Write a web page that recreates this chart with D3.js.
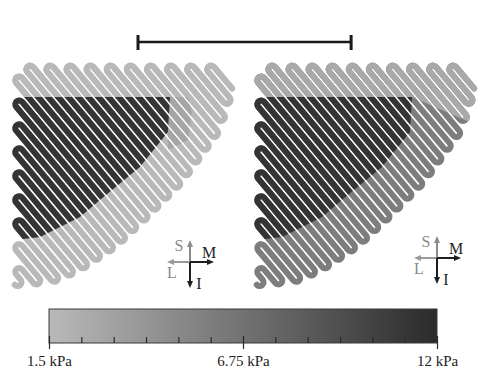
<!DOCTYPE html>
<html><head><meta charset="utf-8">
<script src="https://cdn.jsdelivr.net/npm/d3@7"></script>
<style>html,body{margin:0;padding:0;background:#fff;} svg{display:block;}</style>
</head><body><svg id="chart" width="487" height="381"></svg>
<script>
// ---------- data (normalized panel coordinates, pressures in kPa) ----------
const outlineShape = [[0,0],[0.920,0],[0.978,0.058],[0.996,0.124],[0.973,0.212],[0.929,0.323],[0.863,0.412],[0.774,0.535],[0.624,0.686],[0.469,0.832],[0.301,0.942],[0.168,1],[0,1]];
const coreRegion = [[-0.1,0.155],[0.699,0.155],[0.690,0.310],[0.566,0.465],[0.389,0.611],[0.301,0.686],[0.124,0.774],[-0.1,0.801]];
const transitionRegion = [[0.695,0.155],[0.779,0.155],[0.796,0.221],[0.779,0.345],[0.690,0.389],[0.690,0.310]];
const topBandRegion = [[-0.1,-0.1],[1.1,-0.1],[1.1,0.33],[0.699,0.155],[-0.1,0.155]];
const panelBaseKPa = [1.5, 5.9];
const panelTopBandKPa = [1.5, 2.7];
const panelTransitionKPa = [3.0, null];
const panelCoreKPa = [11.3, 11.3];
const colorbarDomain = [1.5, 12];
const colorbarMajorTicks = [1.5, 6.75, 12];
const colorbarTickLabels = ["1.5 kPa", "6.75 kPa", "12 kPa"];
const colorbarDivisions = 12;
const compassLabels = ["S", "M", "L", "I"];
const scaleBarLength = 0.943; // in panel widths

// ---------- layout ----------
const svg = d3.select("#chart");
const panelBoxes = [{x0:12, y0:62, size:226, cx:190, cy:262}, {x0:254, y0:62, size:226, cx:437, cy:258}];
const color = d3.scaleLinear().domain(colorbarDomain).range(["#b9b9b9", "#2b2b2b"]).clamp(true);
const stripeAngle = 50, stripeSpacing = 7.7, stripeWidth = 6.0, tipInset = 6.5;

function serpentinePath(poly) {
  const a = stripeAngle * Math.PI / 180;
  const d = [Math.cos(a), Math.sin(a)], n = [Math.sin(a), -Math.cos(a)];
  const cs = poly.map(p => p[0]*n[0] + p[1]*n[1]);
  const cmin = d3.min(cs), cmax = d3.max(cs);
  const passes = [];
  for (let c = cmin + stripeSpacing * 0.55; c < cmax - stripeSpacing * 0.3; c += stripeSpacing) {
    const ts = [];
    for (let i = 0; i < poly.length; i++) {
      const p1 = poly[i], p2 = poly[(i+1) % poly.length];
      const c1 = p1[0]*n[0] + p1[1]*n[1], c2 = p2[0]*n[0] + p2[1]*n[1];
      if ((c1 - c) * (c2 - c) <= 0 && c1 !== c2) {
        const u = (c - c1) / (c2 - c1);
        const x = p1[0] + u*(p2[0]-p1[0]), y = p1[1] + u*(p2[1]-p1[1]);
        ts.push(x*d[0] + y*d[1]);
      }
    }
    if (ts.length < 2) continue;
    let t0 = d3.min(ts) + tipInset, t1 = d3.max(ts) - tipInset;
    if (t1 < t0) { const m = (t0 + t1) / 2; t0 = m; t1 = m; }
    passes.push({c, t0, t1});
  }
  for (let i = 0; i + 1 < passes.length; i += 2) {
    const t = Math.min(passes[i].t1, passes[i+1].t1);
    passes[i].t1 = t; passes[i+1].t1 = t;
  }
  for (let i = 1; i + 1 < passes.length; i += 2) {
    const t = Math.max(passes[i].t0, passes[i+1].t0);
    passes[i].t0 = t; passes[i+1].t0 = t;
  }
  const pt = (c, t) => [c*n[0] + t*d[0], c*n[1] + t*d[1]];
  let path = "";
  passes.forEach((p, i) => {
    const forward = i % 2 === 0;
    const a0 = pt(p.c, forward ? p.t0 : p.t1), b0 = pt(p.c, forward ? p.t1 : p.t0);
    if (i === 0) path += `M${a0[0].toFixed(2)},${a0[1].toFixed(2)}`;
    else {
      const prev = passes[i-1];
      const prevForward = (i-1) % 2 === 0;
      const pe = pt(prev.c, prevForward ? prev.t1 : prev.t0);
      const dir = prevForward ? d : [-d[0], -d[1]];
      const v = [a0[0]-pe[0], a0[1]-pe[1]];
      const cross = dir[0]*v[1] - dir[1]*v[0];
      const r = Math.hypot(v[0], v[1]) / 2;
      path += `A${r.toFixed(2)},${r.toFixed(2)} 0 0 ${cross > 0 ? 1 : 0} ${a0[0].toFixed(2)},${a0[1].toFixed(2)}`;
    }
    path += `L${b0[0].toFixed(2)},${b0[1].toFixed(2)}`;
  });
  return path;
}

const defs = svg.append("defs");

panelBoxes.forEach((box, pi) => {
  const sx = d3.scaleLinear().domain([0, 1]).range([box.x0, box.x0 + box.size]);
  const sy = d3.scaleLinear().domain([0, 1]).range([box.y0, box.y0 + box.size]);
  const toScreen = poly => poly.map(p => [sx(p[0]), sy(p[1])]);
  const serp = serpentinePath(toScreen(outlineShape));
  const g = svg.append("g").attr("class", "panel");
  const layers = [
    {kpa: panelBaseKPa[pi], region: null},
    {kpa: panelTopBandKPa[pi], region: topBandRegion},
    {kpa: panelTransitionKPa[pi], region: transitionRegion},
    {kpa: panelCoreKPa[pi], region: coreRegion}
  ];
  layers.forEach((L, li) => {
    if (L.kpa == null) return;
    let clip = null;
    if (L.region) {
      const id = `clip-${pi}-${li}`;
      defs.append("clipPath").attr("id", id).append("path")
        .attr("d", d3.line()(toScreen(L.region)) + "Z");
      clip = `url(#${id})`;
    }
    g.append("path").attr("d", serp)
      .attr("fill", "none").attr("stroke", color(L.kpa))
      .attr("stroke-width", stripeWidth).attr("stroke-linecap", "round").attr("stroke-linejoin", "round")
      .attr("clip-path", clip);
  });

  // compass
  const cg = svg.append("g").attr("transform", `translate(${box.cx},${box.cy})`);
  const arms = [
    {dx:0, dy:-22, col:"#8c8c8c"}, {dx:24, dy:0, col:"#1e1e1e"},
    {dx:-23, dy:0, col:"#9a9a9a"}, {dx:0, dy:26, col:"#1e1e1e"}
  ];
  arms.forEach(a => {
    const len = Math.hypot(a.dx, a.dy), ux = a.dx/len, uy = a.dy/len;
    cg.append("line").attr("x1", 0).attr("y1", 0)
      .attr("x2", a.dx - ux*5).attr("y2", a.dy - uy*5)
      .attr("stroke", a.col).attr("stroke-width", 2);
    const tip = [a.dx, a.dy], base = [a.dx - ux*7, a.dy - uy*7];
    cg.append("path").attr("d", d3.line()([tip, [base[0] - uy*3, base[1] + ux*3], [base[0] + uy*3, base[1] - ux*3]]) + "Z")
      .attr("fill", a.col);
  });
  const labelPos = [[-11,-17,"#8a8a8a"],[19,-10,"#1e1e1e"],[-18,10,"#8a8a8a"],[9,21,"#1e1e1e"]];
  compassLabels.forEach((t, i) => {
    cg.append("text").attr("x", labelPos[i][0]).attr("y", labelPos[i][1])
      .attr("text-anchor", "middle").attr("dominant-baseline", "central")
      .attr("font-family", "Liberation Serif, serif").attr("font-size", 16)
      .attr("fill", labelPos[i][2]).text(t);
  });
});

// scale bar
{
  const sbx = d3.scaleLinear().domain([0, 1]).range([138, 138 + 226]);
  const g = svg.append("g").attr("stroke", "#1a1a1a");
  g.append("line").attr("x1", sbx(0)).attr("x2", sbx(scaleBarLength)).attr("y1", 42).attr("y2", 42).attr("stroke-width", 2.5);
  [0, scaleBarLength].forEach(v => g.append("line").attr("x1", sbx(v)).attr("x2", sbx(v)).attr("y1", 35).attr("y2", 50).attr("stroke-width", 3));
}

// colorbar
{
  const cx = d3.scaleLinear().domain(colorbarDomain).range([49, 437]);
  const grad = defs.append("linearGradient").attr("id", "cbgrad");
  d3.range(0, 1.0001, 0.1).forEach(f => {
    const v = colorbarDomain[0] + f * (colorbarDomain[1] - colorbarDomain[0]);
    grad.append("stop").attr("offset", `${f*100}%`).attr("stop-color", color(v));
  });
  svg.append("rect").attr("x", cx(1.5)).attr("y", 309).attr("width", cx(12) - cx(1.5)).attr("height", 34)
    .attr("fill", "url(#cbgrad)").attr("stroke", "#3a3a3a").attr("stroke-width", 1);
  const step = (colorbarDomain[1] - colorbarDomain[0]) / colorbarDivisions;
  const allTicks = d3.range(colorbarDivisions + 1).map(k => colorbarDomain[0] + k * step);
  const isMajor = v => colorbarMajorTicks.some(m => Math.abs(m - v) < 1e-6);
  const axis = d3.axisBottom(cx).tickValues(allTicks).tickSize(-6).tickPadding(0)
    .tickFormat(v => { const j = colorbarMajorTicks.findIndex(m => Math.abs(m - v) < 1e-6); return j >= 0 ? colorbarTickLabels[j] : ""; });
  const ag = svg.append("g").attr("transform", "translate(0,343)").call(axis);
  ag.select(".domain").remove();
  ag.selectAll(".tick line").attr("stroke", "#2a2a2a").attr("stroke-width", 1.2)
    .attr("y1", v => isMajor(v) ? 6 : 0).attr("y2", v => isMajor(v) ? -7 : -6);
  ag.selectAll(".tick text").attr("y", 12).attr("fill", "#222")
    .attr("font-family", "Liberation Serif, serif").attr("font-size", 15);
}
</script></body></html>
